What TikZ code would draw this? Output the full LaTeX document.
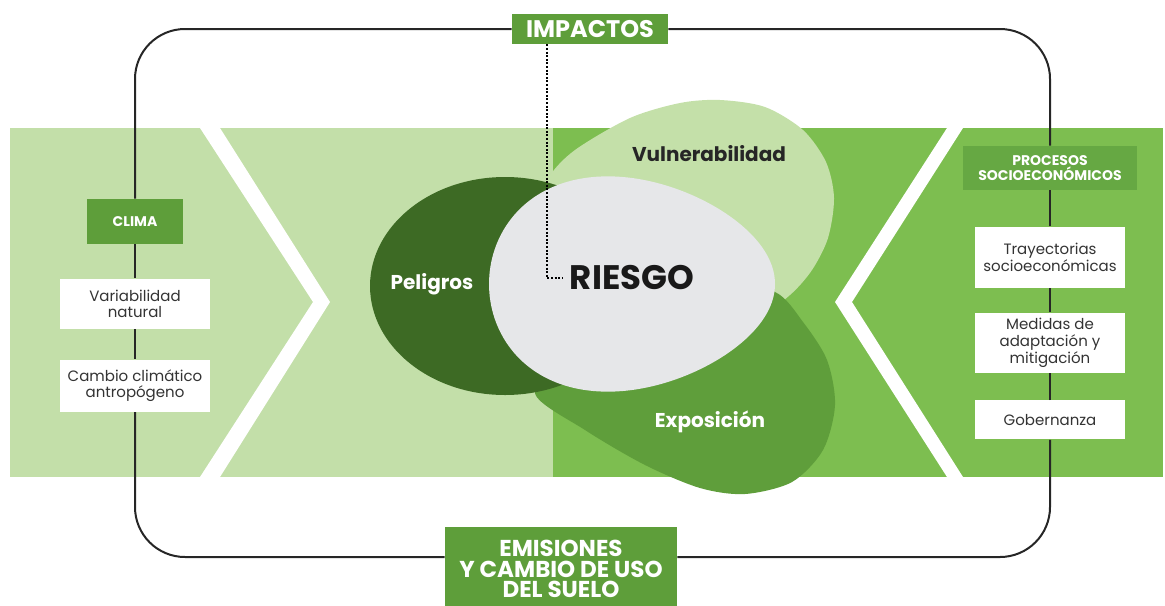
\documentclass[tikz,border=0pt]{standalone}
\usepackage{fontspec}
\setmainfont{Poppins}
\usetikzlibrary{positioning}

\definecolor{lightband}{HTML}{C3DFA9}
\definecolor{midband}{HTML}{7DBE50}
\definecolor{boxgreen}{HTML}{5E9E3A}
\definecolor{procgreen}{HTML}{66A843}
\definecolor{vulncol}{HTML}{C4E0A9}
\definecolor{expocol}{HTML}{5F9E3B}
\definecolor{peligcol}{HTML}{3D6A24}
\definecolor{riskgray}{HTML}{E6E7E9}
\definecolor{inkgray}{HTML}{333333}

\tikzset{
  frame/.style={line width=1pt, draw=black!85, rounded corners=25pt},
  greenbox/.style={fill=boxgreen, text=white, inner sep=0pt, align=center},
  whitebox/.style={fill=white, text=inkgray, inner sep=0pt, align=center,
    minimum width=75pt, font=\fontsize{7.5}{8.4}\selectfont},
  dotline/.style={line width=1pt, dash pattern=on 1pt off 0.8pt},
  blob/.style={text=white, font=\fontsize{10}{12}\selectfont\bfseries},
}

\begin{document}
\begin{tikzpicture}[x=0.5pt, y=-0.5pt]
\useasboundingbox (0,0) rectangle (1165,605);
% band and chevrons
\fill[lightband] (10,128) rectangle (553,477);
\fill[midband] (553,128) rectangle (1163,477);
\fill[white] (200,128) -- (220,128) -- (330,302) -- (220,477) -- (200,477) -- (313,302) -- cycle;
\fill[white] (947,128) -- (963,128) -- (852,302) -- (963,477) -- (947,477) -- (835,302) -- cycle;
% the four shapes
\fill[vulncol] plot[smooth cycle] coordinates {(548,178) (575,150) (630,118) (680,103)
  (720,100) (765,107) (803,130) (826,162) (834,198) (828,238) (812,270) (790,295)
  (755,320) (700,340) (630,340) (565,315) (530,270) (528,220)};
\fill[expocol] plot[smooth cycle] coordinates {(535,393) (585,430) (645,465) (700,488)
  (745,494) (792,482) (823,450) (835,405) (827,360) (803,322) (775,292) (720,285)
  (640,310) (575,355)};
\fill[peligcol] (505,286) ellipse [x radius=67.5pt, y radius=54.5pt];
\fill[riskgray] plot[domain=0:360, samples=90, smooth]
  ({632+143*cos(\x)}, {284+106*sin(\x)*(1-0.18*cos(\x))}) -- cycle;

\node[blob] (pel) at (432,284) {Peligros};
\node[blob, text=black!85] (vul) at (709,154) {Vulnerabilidad};
\node[blob] (expo) at (710,422) {Exposición};
\node[font=\fontsize{17}{17}\selectfont\bfseries, text=black!90] (riesgo) at (632,278) {RIESGO};

% boxes
\node[greenbox, minimum width=78pt, minimum height=15pt,
  font=\fontsize{12}{12}\selectfont\bfseries] (imp) at (590,29) {IMPACTOS};
\node[greenbox, minimum width=48pt, minimum height=22.5pt,
  font=\fontsize{7}{8}\selectfont\bfseries] (clima) at (135,221.5) {CLIMA};
\node[whitebox, minimum height=25pt, below=17pt of clima] (var) {Variabilidad\\natural};
\node[whitebox, minimum height=26pt, below=15pt of var] (cam) {Cambio climático\\antropógeno};
\node[greenbox, fill=procgreen, minimum width=87pt, minimum height=22pt,
  font=\fontsize{7}{7.8}\selectfont\bfseries] (proc) at (1050,168) {PROCESOS\\SOCIOECONÓMICOS};
\node[whitebox, minimum height=30.5pt, below=18pt of proc] (tray) {Trayectorias\\socioeconómicas};
\node[whitebox, minimum height=30pt, below=12pt of tray] (med) {Medidas de\\adaptación y\\mitigación};
\node[whitebox, minimum height=19.5pt, below=13.5pt of med] (gob) {Gobernanza};
\node[greenbox, minimum width=116pt, minimum height=42pt,
  font=\fontsize{11.5}{10.3}\selectfont\bfseries] (emi) at (561,569)
  {EMISIONES\\Y CAMBIO DE USO\\DEL SUELO};

% frame
\coordinate (base) at (0,557);
\draw[frame] (imp.west) -| (clima.north);
\draw[frame] (clima.south) -- (var.north);
\draw[frame] (var.south) -- (cam.north);
\draw[frame] (cam.south) |- (emi.west |- base);
\draw[frame] (emi.east |- base) -| (gob.south);
\draw[frame] (gob.north) -- (med.south);
\draw[frame] (med.north) -- (tray.south);
\draw[frame] (tray.north) -- (proc.south);
\draw[frame] (proc.north) |- (imp.east);

% link to risk
\coordinate (bend) at (547,278);
\draw[dotline] (imp.south -| bend) -- (bend) -- (riesgo.west);
\end{tikzpicture}
\end{document}
